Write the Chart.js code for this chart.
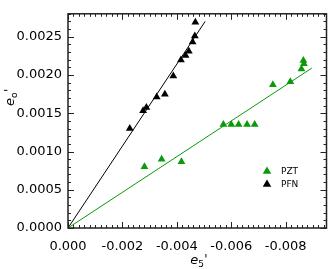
<!DOCTYPE html>
<html>
<head>
<meta charset="utf-8">
<script src="https://cdn.jsdelivr.net/npm/chart.js@4.4.1/dist/chart.umd.min.js"></script>
<style>
html,body{margin:0;padding:0;background:#fff;}
canvas{display:block;}
</style>
</head>
<body>
<canvas id="c" width="331" height="269"></canvas>
<script>
// ---- data ----
const seriesLabels = ['PZT', 'PFN'];
const pztX = [-0.00281, -0.00344, -0.00417, -0.00571, -0.00600, -0.00627, -0.00658, -0.00686, -0.00753, -0.00817, -0.00858, -0.00865, -0.00867];
const pztY = [0.000800, 0.000900, 0.000865, 0.001353, 0.001353, 0.001353, 0.001353, 0.001353, 0.001873, 0.001911, 0.002078, 0.002188, 0.002146];
const pfnX = [-0.00227, -0.00276, -0.00288, -0.00326, -0.00356, -0.00387, -0.00415, -0.00432, -0.00444, -0.00458, -0.00466, -0.00468];
const pfnY = [0.001302, 0.001533, 0.001574, 0.001713, 0.001747, 0.001986, 0.002196, 0.002255, 0.002310, 0.002430, 0.002511, 0.002691];
// fitted lines through the origin (end points)
const pztFitX = [0, -0.00896];
const pztFitY = [0, 0.00209];
const pfnFitX = [0, -0.00504];
const pfnFitY = [0, 0.00270];
// axis ticks
const xMajorStep = 0.002, xMinorStep = 0.0002;
const yMajorStep = 0.0005, yMinorStep = 0.0001;
const xMin = -0.0095, xMax = 0;
const yMin = 0, yMax = 0.0028;

const GREEN = '#0a9a0a';
const BLACK = '#000000';

function pts(xs, ys) { return xs.map((x, i) => ({ x: x, y: ys[i] })); }

const frame = {
  id: 'frame',
  afterDatasetsDraw(chart) {
    const { ctx, chartArea: a, scales: { x, y } } = chart;
    ctx.save();
    ctx.strokeStyle = '#222';
    ctx.lineWidth = 1;
    const nx = Math.round((xMax - xMin) / xMinorStep);
    for (let i = 0; i <= nx; i++) {
      const v = -i * xMinorStep;
      if (v < xMin) break;
      const major = Math.abs(v / xMajorStep - Math.round(v / xMajorStep)) < 1e-6;
      const len = major ? 6 : 3;
      const px = Math.round(x.getPixelForValue(v)) + 0.5;
      ctx.beginPath();
      ctx.moveTo(px, a.bottom); ctx.lineTo(px, a.bottom - len);
      ctx.moveTo(px, a.top); ctx.lineTo(px, a.top + len);
      ctx.stroke();
    }
    const ny = Math.round((yMax - yMin) / yMinorStep);
    for (let i = 0; i <= ny; i++) {
      const v = yMin + i * yMinorStep;
      const major = Math.abs(v / yMajorStep - Math.round(v / yMajorStep)) < 1e-6;
      const len = major ? 6 : 3;
      const py = Math.round(y.getPixelForValue(v)) + 0.5;
      ctx.beginPath();
      ctx.moveTo(a.left, py); ctx.lineTo(a.left + len, py);
      ctx.moveTo(a.right, py); ctx.lineTo(a.right - len, py);
      ctx.stroke();
    }
    ctx.lineWidth = 1.5;
    ctx.strokeRect(a.left, a.top, a.right - a.left, a.bottom - a.top);

    // legend inside plot area
    const ds = chart.data.datasets;
    ctx.font = '9px "DejaVu Sans"';
    ctx.textBaseline = 'middle';
    ctx.textAlign = 'left';
    const lx = 267, ly = 171;
    [0, 1].forEach((k, j) => {
      const cy = ly + j * 13;
      ctx.fillStyle = ds[k].backgroundColor;
      const r = 4.5;
      ctx.beginPath();
      ctx.moveTo(lx, cy - r);
      ctx.lineTo(lx + r * 0.95, cy + r * 0.6);
      ctx.lineTo(lx - r * 0.95, cy + r * 0.6);
      ctx.closePath();
      ctx.fill();
      ctx.fillStyle = '#000';
      ctx.fillText(ds[k].label, 281, cy + 0.5);
    });

    // axis titles
    ctx.fillStyle = '#000';
    ctx.textBaseline = 'alphabetic';
    const tx = (a.left + a.right) / 2 - 7, tyb = 264;
    ctx.font = 'italic 13px "DejaVu Sans"';
    ctx.fillText('e', tx, tyb);
    ctx.font = '9px "DejaVu Sans"';
    ctx.fillText('5', tx + 8, tyb + 3);
    ctx.font = '12px "DejaVu Sans"';
    ctx.fillText("'", tx + 14, tyb - 1);
    ctx.save();
    ctx.translate(14, 106);
    ctx.rotate(-Math.PI / 2);
    ctx.font = 'italic 13px "DejaVu Sans"';
    ctx.fillText('e', 0, 0);
    ctx.font = '9px "DejaVu Sans"';
    ctx.fillText('o', 8, 3);
    ctx.font = '12px "DejaVu Sans"';
    ctx.fillText("'", 14, -1);
    ctx.restore();
    ctx.restore();
  }
};

const tickFont = { family: 'DejaVu Sans', size: 13 };

new Chart(document.getElementById('c'), {
  type: 'scatter',
  data: {
    datasets: [
      { label: seriesLabels[0], data: pts(pztX, pztY), pointStyle: 'triangle', pointRadius: 4.5,
        backgroundColor: GREEN, borderColor: GREEN, borderWidth: 0, order: 1 },
      { label: seriesLabels[1], data: pts(pfnX, pfnY), pointStyle: 'triangle', pointRadius: 4.5,
        backgroundColor: BLACK, borderColor: BLACK, borderWidth: 0, order: 1 },
      { label: 'PZT fit', type: 'line', data: pts(pztFitX, pztFitY), borderColor: GREEN, borderWidth: 1,
        pointRadius: 0, fill: false, order: 2 },
      { label: 'PFN fit', type: 'line', data: pts(pfnFitX, pfnFitY), borderColor: BLACK, borderWidth: 1,
        pointRadius: 0, fill: false, order: 2 }
    ]
  },
  options: {
    responsive: false,
    animation: false,
    devicePixelRatio: 1,
    layout: { padding: { top: 5, right: 2, left: 0, bottom: 0 } },
    plugins: { legend: { display: false }, tooltip: { enabled: false } },
    scales: {
      x: {
        type: 'linear', reverse: true, min: xMin, max: xMax,
        grid: { display: false, drawTicks: false },
        border: { display: false },
        ticks: { stepSize: xMajorStep, includeBounds: false, padding: 11, color: '#000', font: tickFont,
          maxRotation: 0, autoSkip: false,
          callback: v => (Math.abs(v) < 1e-12 ? 0 : v).toFixed(3) },
        afterFit: s => { s.height = 41; }
      },
      y: {
        type: 'linear', min: yMin, max: yMax,
        grid: { display: false, drawTicks: false },
        border: { display: false },
        ticks: { stepSize: yMajorStep, includeBounds: false, padding: 6, color: '#000', font: tickFont,
          autoSkip: false,
          callback: v => (Math.abs(v) < 1e-12 ? 0 : v).toFixed(4) },
        afterFit: s => { s.width = 68; }
      }
    }
  },
  plugins: [frame]
});
</script>
</body>
</html>
